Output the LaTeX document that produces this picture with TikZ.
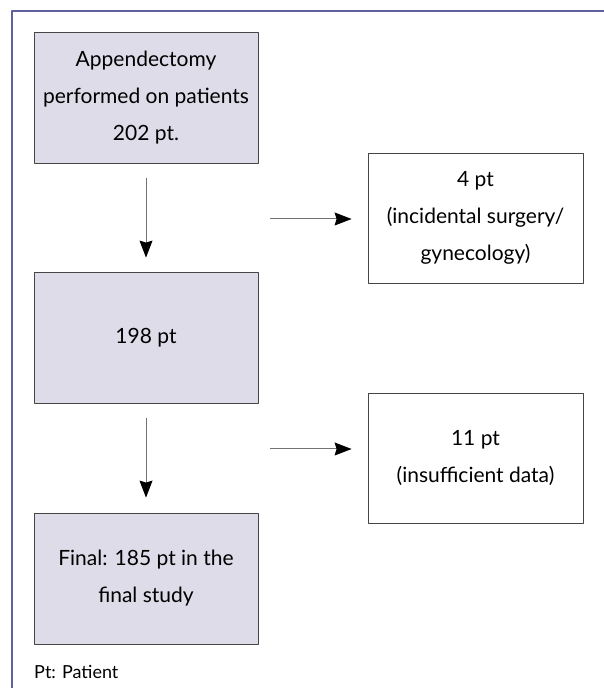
\documentclass[tikz,border=0pt]{standalone}
\usepackage{fontspec}
\setmainfont{Lato}
\usetikzlibrary{arrows.meta}
\definecolor{boxfill}{RGB}{221,220,232}
\definecolor{framecol}{RGB}{96,96,160}
\definecolor{edgecol}{RGB}{70,70,70}
\begin{document}
\begin{tikzpicture}[x=1pt,y=1pt,line join=round,
    stepbox/.style={draw=edgecol,line width=0.8pt,fill=boxfill,minimum width=224pt,minimum height=131pt,align=center,font=\fontsize{21}{37}\selectfont,inner sep=0pt},
    sidebox/.style={stepbox,fill=white,minimum width=215pt,minimum height=130pt},
    arr/.style={draw=gray!90!black,line width=1pt,-{Stealth[length=17pt,width=13pt,inset=2pt,fill=black,color=black]}}]
    \useasboundingbox (0,0) rectangle (604,688);
    % frame
    \draw[framecol,line width=1.2pt] (604,677) -- (12,677) -- (12,0);
    % main column
    \node[stepbox] (start) at (146,590) {Appendectomy\\performed on patients\\202 pt.};
    \node[stepbox] (mid) at (146,350.5) {198 pt};
    \node[stepbox] (final) at (146,109.5) {Final: 185 pt in the\\final study};
    % excluded
    \node[sidebox] (excl1) at (475.5,470) {4 pt\\(incidental surgery/\\gynecology)};
    \node[sidebox] (excl2) at (475.5,230) {11 pt\\(insufficient data)};
    \draw[arr,shorten <=14pt,shorten >=14pt] (start) -- (mid);
    \draw[arr,shorten <=15pt,shorten >=15pt] (mid) -- (final);
    \coordinate (a1) at (270,469);
    \coordinate (a2) at (270,239);
    \draw[arr] (a1) -- ([yshift=-1pt,xshift=-16pt]excl1.west);
    \draw[arr] (a2) -- ([yshift=9pt,xshift=-16pt]excl2.west);
    \node[anchor=west,font=\fontsize{18}{20}\selectfont,inner sep=0pt] (note) at (34,16) {Pt: Patient};
\end{tikzpicture}
\end{document}
